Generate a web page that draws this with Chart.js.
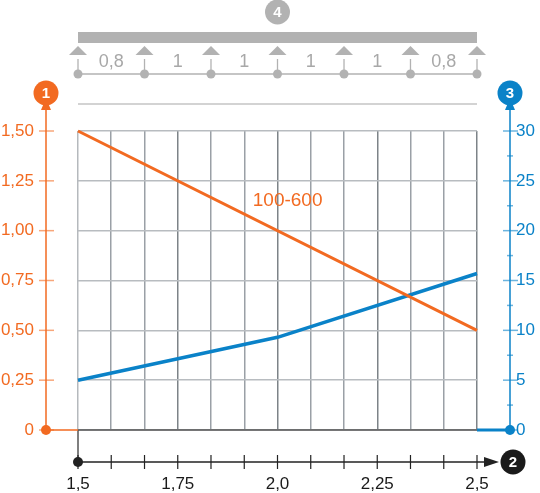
<!DOCTYPE html>
<html><head><meta charset="utf-8">
<script src="https://cdn.jsdelivr.net/npm/chart.js@4"></script>
<style>html,body{margin:0;padding:0;background:#fff;}canvas{display:block;}</style>
</head><body>
<canvas id="c" width="540" height="493"></canvas>
<script>
// ---- data ----
const xTicks = [1.5, 1.5833, 1.6667, 1.75, 1.8333, 1.9167, 2.0, 2.0833, 2.1667, 2.25, 2.3333, 2.4167, 2.5];
const xTickLabels = ['1,5', '', '', '1,75', '', '', '2,0', '', '', '2,25', '', '', '2,5'];
const leftTicks = [0, 0.25, 0.5, 0.75, 1.0, 1.25, 1.5];
const leftTickLabels = ['0', '0,25', '0,50', '0,75', '1,00', '1,25', '1,50'];
const rightTicks = [0, 5, 10, 15, 20, 25, 30];
const rightMinorTicks = [2.5, 7.5, 12.5, 17.5, 22.5, 27.5];
const rightTickLabels = ['0', '5', '10', '15', '20', '25', '30'];
const loadX = [1.5, 2.5];
const loadY = [1.5, 0.5];
const loadName = '100-600';
const deflX = [1.5, 2.0, 2.5];
const deflY = [5, 9.3, 15.7];
const supportX = [1.5, 1.6667, 1.8333, 2.0, 2.1667, 2.3333, 2.5];
const spanLabels = ['0,8', '1', '1', '1', '1', '0,8'];

const ORANGE = '#f26a21';
const BLUE = '#0a82c8';
const GRAY = '#b2b2b2';
const FONT = '"Liberation Sans", Arial, Helvetica, sans-serif';

function circleBadge(ctx, x, y, r, fill, txt) {
  ctx.save();
  ctx.beginPath(); ctx.arc(x, y, r, 0, Math.PI * 2); ctx.fillStyle = fill; ctx.fill();
  ctx.fillStyle = '#fff'; ctx.font = 'bold 15px ' + FONT;
  ctx.textAlign = 'center'; ctx.textBaseline = 'middle';
  ctx.fillText(txt, x, y + 1);
  ctx.restore();
}
function dot(ctx, x, y, r, fill) {
  ctx.beginPath(); ctx.arc(x, y, r, 0, Math.PI * 2); ctx.fillStyle = fill; ctx.fill();
}
function line(ctx, x1, y1, x2, y2, color, w) {
  ctx.beginPath(); ctx.moveTo(x1, y1); ctx.lineTo(x2, y2);
  ctx.strokeStyle = color; ctx.lineWidth = w; ctx.stroke();
}
function arrowUp(ctx, x, yTip, color) {
  ctx.beginPath(); ctx.moveTo(x, yTip); ctx.lineTo(x - 5, yTip + 12); ctx.lineTo(x + 5, yTip + 12);
  ctx.closePath(); ctx.fillStyle = color; ctx.fill();
}

const deco = {
  id: 'deco',
  afterDraw(chart) {
    const ctx = chart.ctx;
    const xs = chart.scales.x, yl = chart.scales.y, yr = chart.scales.y2;
    const a = chart.chartArea;
    const y0 = yl.getPixelForValue(0);
    const leftAx = 46, rightAx = 510, botAx = 462;
    ctx.save();
    // plot borders
    line(ctx, a.left, y0, a.right, y0, '#555', 1.5);
    line(ctx, a.left, y0, a.left, botAx, '#555', 1.5);
    // left axis
    line(ctx, leftAx, y0, a.left, y0, ORANGE, 1.5);
    line(ctx, leftAx, y0, leftAx, 106, ORANGE, 1.5);
    arrowUp(ctx, leftAx, 98, ORANGE);
    leftTicks.forEach(v => { const p = yl.getPixelForValue(v); line(ctx, leftAx - 7, p, leftAx + 8, p, 'rgba(242,106,33,0.6)', 1.5); });
    dot(ctx, leftAx, y0, 5, ORANGE);
    circleBadge(ctx, leftAx, 93, 12.5, ORANGE, '1');
    // right axis
    line(ctx, a.right, y0, rightAx, y0, BLUE, 3);
    line(ctx, rightAx, y0, rightAx, 106, BLUE, 1.5);
    arrowUp(ctx, rightAx, 98, BLUE);
    rightTicks.forEach(v => { const p = yr.getPixelForValue(v); line(ctx, rightAx - 7, p, rightAx + 8, p, 'rgba(10,130,200,0.6)', 1.5); });
    rightMinorTicks.forEach(v => { const p = yr.getPixelForValue(v); line(ctx, rightAx - 3, p, rightAx + 3, p, 'rgba(10,130,200,0.6)', 1.5); });
    dot(ctx, rightAx, y0, 5, BLUE);
    circleBadge(ctx, rightAx, 93, 12.5, BLUE, '3');
    // bottom axis
    line(ctx, a.left, botAx, 488, botAx, '#222', 1.5);
    ctx.beginPath(); ctx.moveTo(499, botAx); ctx.lineTo(484, botAx - 5); ctx.lineTo(484, botAx + 5); ctx.closePath();
    ctx.fillStyle = '#222'; ctx.fill();
    xTicks.forEach(v => { const p = xs.getPixelForValue(v); line(ctx, p, botAx - 7, p, botAx + 7, '#222', 1.2); });
    dot(ctx, a.left, botAx, 5, '#222');
    circleBadge(ctx, 513, botAx, 12.5, '#1a1a1a', '2');
    // top beam
    line(ctx, a.left, 104, a.right, 104, '#c4c4c4', 1.5);
    ctx.fillStyle = GRAY;
    ctx.fillRect(a.left, 32, a.right - a.left, 11);
    const sp = supportX.map(v => xs.getPixelForValue(v));
    line(ctx, sp[0], 74, sp[sp.length - 1], 74, GRAY, 1.5);
    sp.forEach(p => {
      ctx.beginPath(); ctx.moveTo(p, 46); ctx.lineTo(p - 9, 55); ctx.lineTo(p + 9, 55); ctx.closePath();
      ctx.fillStyle = GRAY; ctx.fill();
      line(ctx, p, 59, p, 71, GRAY, 1.3);
      dot(ctx, p, 74, 4.5, GRAY);
    });
    ctx.fillStyle = '#a8a8a8'; ctx.font = '18px ' + FONT;
    ctx.textAlign = 'center'; ctx.textBaseline = 'middle';
    spanLabels.forEach((t, i) => ctx.fillText(t, (sp[i] + sp[i + 1]) / 2, 62));
    circleBadge(ctx, xs.getPixelForValue(2.0), 12, 12.5, GRAY, '4');
    // series label
    ctx.fillStyle = ORANGE; ctx.font = '19px ' + FONT;
    ctx.textAlign = 'left'; ctx.textBaseline = 'middle';
    ctx.fillText(loadName, xs.getPixelForValue(1.938), yl.getPixelForValue(1.149));
    ctx.restore();
  }
};

new Chart(document.getElementById('c'), {
  type: 'line',
  data: {
    datasets: [
      { label: loadName, data: loadX.map((x, i) => ({ x, y: loadY[i] })), yAxisID: 'y',
        borderColor: ORANGE, borderWidth: 3, pointRadius: 0, tension: 0, clip: false },
      { label: 'deflection', data: deflX.map((x, i) => ({ x, y: deflY[i] })), yAxisID: 'y2',
        borderColor: BLUE, borderWidth: 3.5, pointRadius: 0, tension: 0, clip: false }
    ]
  },
  options: {
    responsive: false, animation: false,
    layout: { padding: { top: 131, left: 0, right: 0, bottom: 0 } },
    plugins: { legend: { display: false }, tooltip: { enabled: false } },
    scales: {
      x: {
        type: 'linear', min: 1.5, max: 2.5, position: 'bottom',
        afterBuildTicks: s => { s.ticks = xTicks.map(v => ({ value: v })); },
        afterFit: s => { s.height = 63; },
        border: { display: false },
        grid: { drawTicks: false, lineWidth: 1.5,
          color: c => (c.index === 0 ? '#b5b9bd' : (xTickLabels[c.index] ? '#7d8388' : '#9aa0a6')) },
        ticks: { padding: 44, color: '#1a1a1a', font: { size: 17, family: FONT }, autoSkip: false, maxRotation: 0,
          callback: (v, i) => xTickLabels[i] }
      },
      y: {
        type: 'linear', min: 0, max: 1.5, position: 'left',
        afterBuildTicks: s => { s.ticks = leftTicks.map(v => ({ value: v })); },
        afterFit: s => { s.width = 78; },
        border: { display: false },
        grid: { drawTicks: false, lineWidth: 1.5, color: '#b8bcc0' },
        ticks: { padding: 44, color: ORANGE, font: { size: 17, family: FONT },
          callback: (v, i) => leftTickLabels[i] }
      },
      y2: {
        type: 'linear', min: 0, max: 30, position: 'right',
        afterBuildTicks: s => { s.ticks = rightTicks.map(v => ({ value: v })); },
        afterFit: s => { s.width = 63; },
        border: { display: false },
        grid: { drawTicks: false, drawOnChartArea: false },
        ticks: { padding: 39, color: BLUE, font: { size: 17, family: FONT },
          callback: (v, i) => rightTickLabels[i] }
      }
    }
  },
  plugins: [deco]
});
</script>
</body></html>
